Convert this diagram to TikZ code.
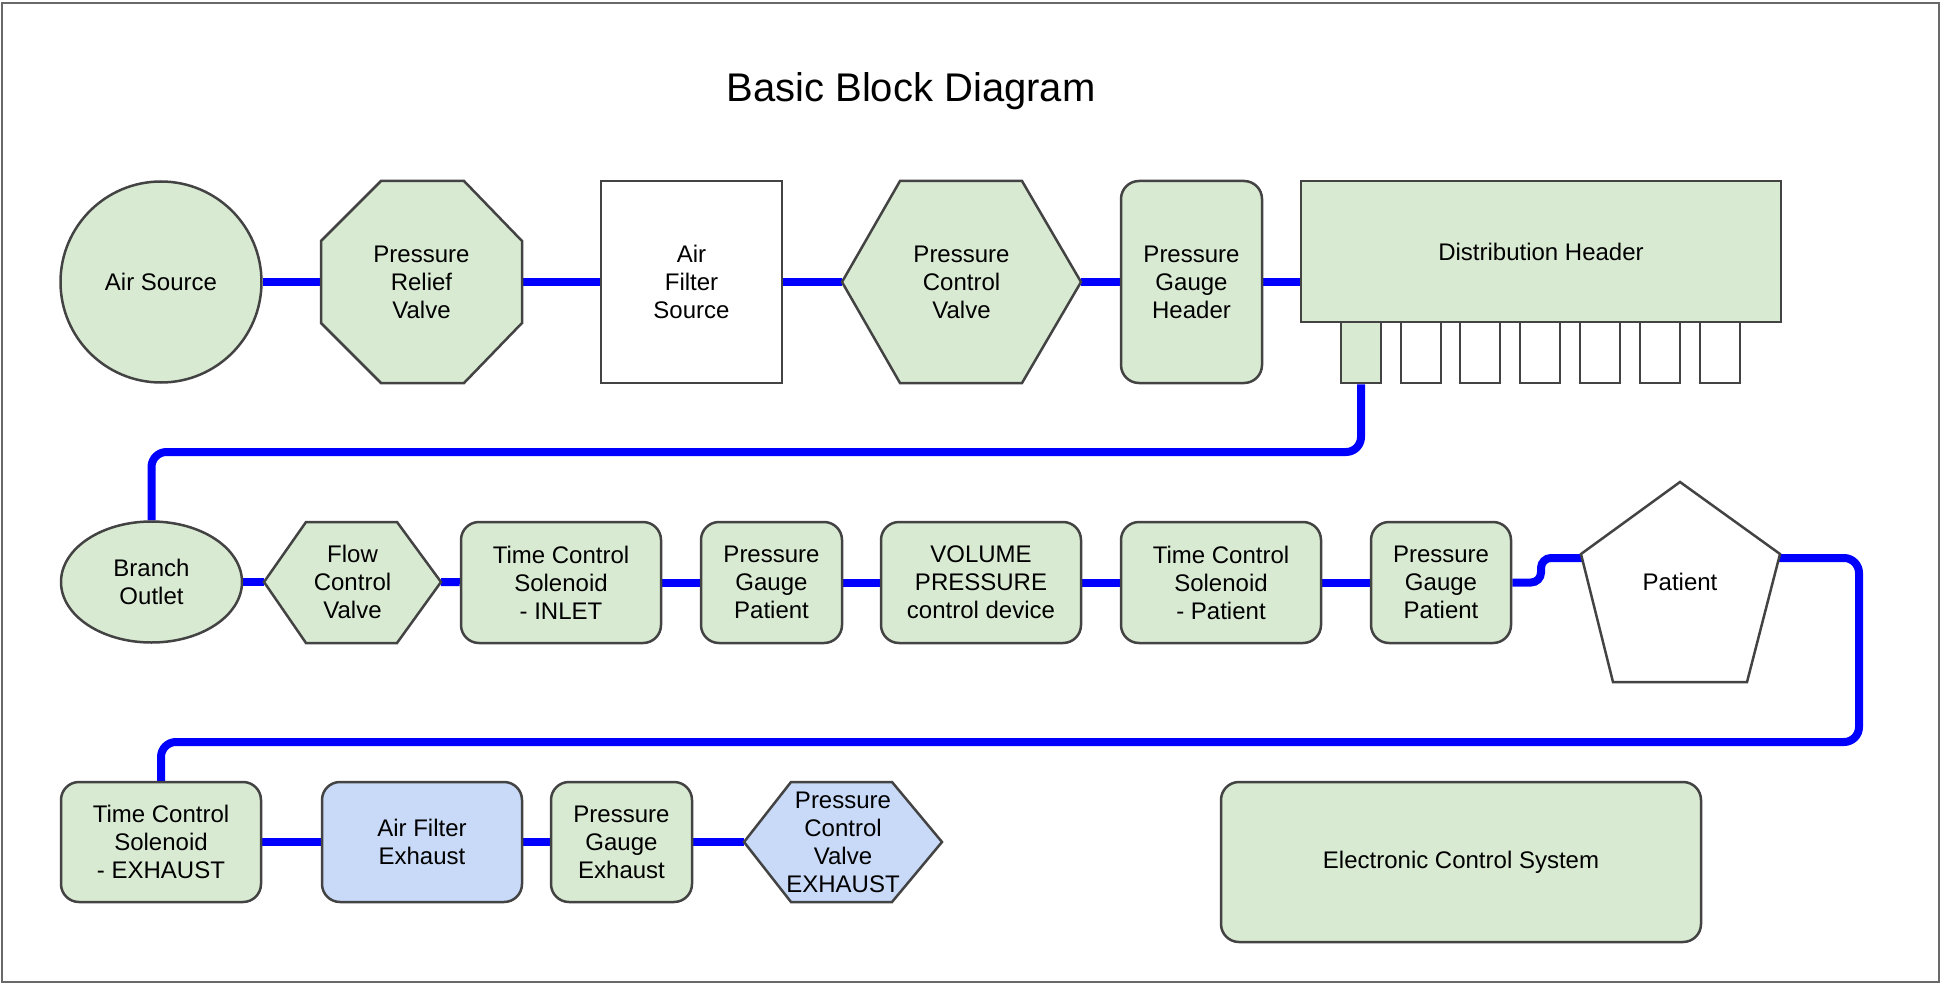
\documentclass[tikz,border=0pt]{standalone}
\usepackage{fontspec}
\setmainfont{Liberation Sans}
\usetikzlibrary{shapes.geometric,backgrounds}
\definecolor{gfill}{HTML}{D9EAD3}
\definecolor{bfill}{HTML}{C9DAF8}
\definecolor{edge}{HTML}{434343}
\definecolor{pipec}{HTML}{0000FF}
\begin{document}
\begin{tikzpicture}[x=1pt,y=-1pt,
  txt/.style={font=\fontsize{24}{28}\selectfont,align=center,inner sep=0pt},
  box/.style={txt,draw=edge,line width=2.5pt,minimum height=202pt},
  gbox/.style={box,fill=gfill},
  rbox/.style={box,fill=gfill,rounded corners=18pt},
  shp/.style={draw=edge,line width=2.5pt,line join=miter},
  pipe/.style={draw=pipec,line width=8pt,rounded corners=15pt}]
\useasboundingbox (0,0) rectangle (1942,984);
\draw[draw=edge!80,line width=2pt] (2,3) rectangle (1939,982);
\node[font=\fontsize{40}{46}\selectfont,anchor=base,inner sep=0pt] (title) at (911,102) {Basic Block Diagram};
% row 1
\node[gbox,circle,minimum size=201pt] (as) at (161,282) {Air Source};
\draw[shp,fill=gfill] (381,181) -- (464,181) -- (522,241) -- (522,323) -- (464,383) -- (381,383) -- (321,323) -- (321,241) -- cycle;
\node[txt] (prv) at (421.5,282) {Pressure\\Relief\\Valve};
\coordinate (prvW) at (321,282);
\coordinate (prvE) at (522,282);
\node[box,fill=white,minimum width=181pt] (afs) at (691.5,282) {Air\\Filter\\Source};
\draw[shp,fill=gfill] (842,282) -- (900,181) -- (1022,181) -- (1081,282) -- (1022,383) -- (900,383) -- cycle;
\node[txt] (pcv) at (961.5,282) {Pressure\\Control\\Valve};
\coordinate (pcvW) at (842,282);
\coordinate (pcvE) at (1081,282);
\node[rbox,minimum width=141pt] (pgh) at (1191.5,282) {Pressure\\Gauge\\Header};
\node[gbox,minimum width=480pt,minimum height=141pt] (dh) at (1541,251.5) {Distribution Header};
\foreach \i/\x in {1/1361,2/1421,3/1480,4/1540,5/1600,6/1660,7/1720}{
  \node[shp,fill=white,minimum width=40pt,minimum height=61pt,inner sep=0pt] (port\i) at (\x,352.5) {};
}
\node[shp,fill=gfill,minimum width=40pt,minimum height=61pt,inner sep=0pt] at (port1) {};
% row 2
\node[txt,draw=edge,line width=2.5pt,fill=gfill,ellipse,minimum width=181pt,minimum height=121pt] (bo) at (151.5,582) {Branch\\Outlet};
\draw[shp,fill=gfill] (264,582) -- (306,522) -- (397,522) -- (441,582) -- (397,643) -- (306,643) -- cycle;
\node[txt] (fcv) at (352.5,582) {Flow\\Control\\Valve};
\coordinate (fcvW) at (264,582);
\coordinate (fcvE) at (441,582);
\node[rbox,minimum width=200pt,minimum height=121pt] (tci) at (561,582.5) {Time Control\\Solenoid\\- INLET};
\node[rbox,minimum width=141pt,minimum height=121pt] (pgp1) at (771.5,582.5) {Pressure\\Gauge\\Patient};
\node[rbox,minimum width=200pt,minimum height=121pt] (vol) at (981,582.5) {VOLUME\\PRESSURE\\control device};
\node[rbox,minimum width=200pt,minimum height=121pt] (tcp) at (1221,582.5) {Time Control\\Solenoid\\- Patient};
\node[rbox,minimum width=140pt,minimum height=121pt] (pgp2) at (1441,582.5) {Pressure\\Gauge\\Patient};
\draw[shp,fill=white] (1680,482) -- (1780,554) -- (1747,682) -- (1613,682) -- (1581,554) -- cycle;
\node[txt] (pat) at (1680,582) {Patient};
\coordinate (patW) at (1582,558);
\coordinate (patE) at (1779,558);
% row 3
\node[rbox,minimum width=200pt,minimum height=120pt] (tce) at (161,842) {Time Control\\Solenoid\\- EXHAUST};
\node[rbox,fill=bfill,minimum width=200pt,minimum height=120pt] (afe) at (422,842) {Air Filter\\Exhaust};
\node[rbox,minimum width=141pt,minimum height=120pt] (pge) at (621.5,842) {Pressure\\Gauge\\Exhaust};
\draw[shp,fill=bfill] (744,842) -- (791,782) -- (892,782) -- (942,842) -- (892,902) -- (791,902) -- cycle;
\node[txt] (pcve) at (843,842) {Pressure\\Control\\Valve\\EXHAUST};
\coordinate (pcveW) at (744,842);
\node[rbox,minimum width=480pt,minimum height=160pt] (ecs) at (1461,862) {Electronic Control System};
% connectors
\coordinate (brk) at (0,452);
\coordinate (loopR) at (1859,742);
\coordinate (loopL) at (161,742);
\coordinate (stepx) at (1541,0);
\begin{scope}[on background layer]
\draw[pipe] (as) -- (prvW);
\draw[pipe] (prvE) -- (afs);
\draw[pipe] (afs) -- (pcvW);
\draw[pipe] (pcvE) -- (pgh);
\draw[pipe] (pgh.east) -- (pgh.east -| dh.west);
\draw[pipe] (port1.south) -- (port1.south |- brk) -- (bo.north |- brk) -- (bo.north);
\draw[pipe] (bo) -- (fcvW);
\draw[pipe] (fcvE) -- (tci);
\draw[pipe] (tci) -- (pgp1);
\draw[pipe] (pgp1) -- (vol);
\draw[pipe] (vol) -- (tcp);
\draw[pipe] (tcp) -- (pgp2);
\draw[pipe,rounded corners=10pt] (pgp2.east) -- (stepx |- pgp2.east) -- (stepx |- patW) -- (patW);
\draw[pipe] (patE) -- (patE -| loopR) -- (loopR) -- (loopL) -- (tce.north);
\draw[pipe] (tce) -- (afe);
\draw[pipe] (afe) -- (pge);
\draw[pipe] (pge) -- (pcveW);
\end{scope}
\end{tikzpicture}
\end{document}
